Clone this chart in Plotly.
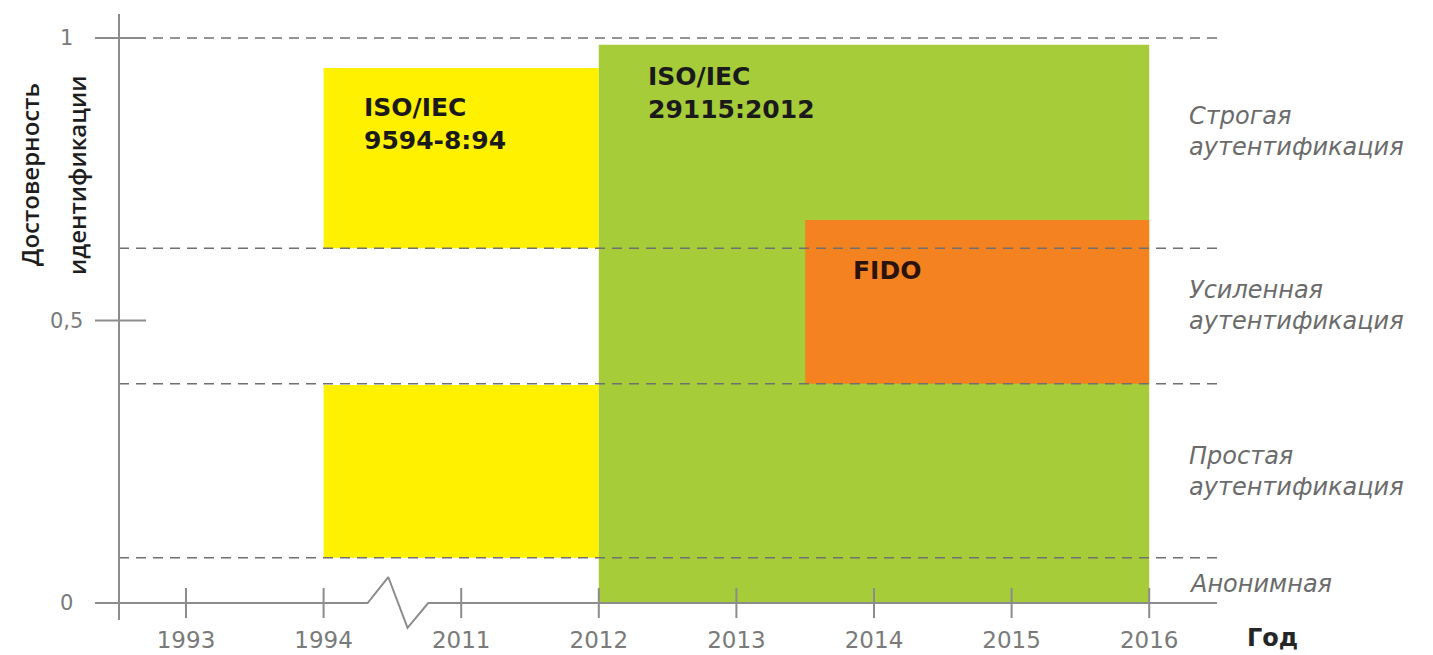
import plotly.graph_objects as go

# ---- data ----
years = ["1993", "1994", "2011", "2012", "2013", "2014", "2015", "2016"]
y_tick_vals = [0, 0.5, 1]
y_tick_text = ["0", "0,5", "1"]

level_bounds = [1.0, 0.628, 0.388, 0.080]
level_names = ["Строгая<br>аутентификация", "Усиленная<br>аутентификация",
               "Простая<br>аутентификация", "Анонимная"]
level_label_y = [0.835, 0.527, 0.232, 0.034]

block_x0 = [1, 1, 3, 4.5]
block_x1 = [3, 3, 7, 7]
block_y0 = [0.628, 0.080, 0.0, 0.388]
block_y1 = [0.947, 0.386, 0.988, 0.678]
block_colors = ["#fff100", "#fff100", "#a6cc3a", "#f58220"]

standard_labels = ["ISO/IEC<br>9594-8:94", "ISO/IEC<br>29115:2012", "FIDO"]
standard_label_x = [1.28, 3.34, 4.83]
standard_label_y = [0.848, 0.903, 0.589]
standard_label_colors = ["#1a1a1a", "#1a1a1a", "#2a140a"]

y_title_lines = ["Достоверность", "идентификации"]
x_title = "Год"

# ---- geometry of the canvas (page body has an 8px margin) ----
OFF = 8
W, H = 1433 - OFF, 655 - OFF
X0PX, DX = 186.0 - OFF, 137.6
Y0PX, DY = 603.0 - OFF, 565.0
def xi(px):
    return (px - OFF - X0PX) / DX
def yv(py):
    return (Y0PX - (py - OFF)) / DY

AX = "#8c8c8c"
fig = go.Figure()

shapes = []
# coloured blocks
for x0, x1, y0, y1, c in zip(block_x0, block_x1, block_y0, block_y1, block_colors):
    shapes.append(dict(type="rect", xref="x", yref="y", x0=x0, x1=x1, y0=y0, y1=y1,
                       fillcolor=c, line=dict(width=0), layer="below"))
# dashed level lines
x_left, x_right = xi(119), xi(1217)
for b in level_bounds:
    shapes.append(dict(type="line", xref="x", yref="y", x0=x_left, x1=x_right, y0=b, y1=b,
                       line=dict(color="#707070", width=1.6, dash="10px,7px"), layer="above"))
# y axis line
shapes.append(dict(type="line", xref="x", yref="y", x0=x_left, x1=x_left, y0=yv(620), y1=yv(14),
                   line=dict(color=AX, width=2)))
# y ticks
for v in y_tick_vals[1:]:
    shapes.append(dict(type="line", xref="x", yref="y", x0=xi(95), x1=xi(146), y0=v, y1=v,
                       line=dict(color=AX, width=2)))
# x ticks
for i in range(len(years)):
    shapes.append(dict(type="line", xref="x", yref="y", x0=i, x1=i, y0=yv(588), y1=yv(618),
                       line=dict(color=AX, width=2)))

# x axis line with break
brk_x = [xi(95), 1.32, 1.47, 1.61, 1.76, x_right]
brk_y = [0, 0, 0.046, -0.044, 0, 0]
fig.add_trace(go.Scatter(x=brk_x, y=brk_y, mode="lines", line=dict(color=AX, width=2),
                         hoverinfo="skip", showlegend=False))

ann = []
for t, x, y, c in zip(standard_labels, standard_label_x, standard_label_y, standard_label_colors):
    ann.append(dict(x=x, y=y, xref="x", yref="y", text=t, showarrow=False, xanchor="left",
                    yanchor="middle", align="left",
                    font=dict(family="DejaVu Sans", size=25, color=c, weight="bold")))
for t, y in zip(level_names, level_label_y):
    ann.append(dict(x=xi(1187), y=y, xref="x", yref="y", text=t, showarrow=False,
                    xanchor="left", yanchor="middle", align="left",
                    font=dict(family="DejaVu Sans", size=24, color="#6b6b6b", style="italic")))
for v, t in zip(y_tick_vals, y_tick_text):
    ann.append(dict(x=xi(66), y=v, xref="x", yref="y", text=t, showarrow=False,
                    xanchor="center", yanchor="middle",
                    font=dict(family="DejaVu Sans", size=21, color="#7a7a7a")))
for t, px in zip(y_title_lines, [29, 76]):
    ann.append(dict(x=xi(px), y=yv(175), xref="x", yref="y", text=t, showarrow=False,
                    textangle=-90, xanchor="center", yanchor="middle",
                    font=dict(family="Open Sans", size=24, color="#1e1e1e", weight=600)))
ann.append(dict(x=xi(1245), y=yv(638), xref="x", yref="y", text=x_title, showarrow=False,
                xanchor="left", yanchor="middle",
                font=dict(family="DejaVu Sans", size=24, color="#262626", weight="bold")))

fig.update_layout(
    width=W, height=H, margin=dict(l=0, r=0, t=0, b=0),
    paper_bgcolor="white", plot_bgcolor="white",
    shapes=shapes, annotations=ann, showlegend=False,
    xaxis=dict(range=[xi(OFF), xi(OFF + W)], showgrid=False, zeroline=False, showline=False,
               tickvals=list(range(len(years))), ticktext=years, ticks="",
               anchor="free", position=(655 - 624) / H,
               tickfont=dict(family="DejaVu Sans", size=23, color="#7a7a7a"), fixedrange=True),
    yaxis=dict(range=[yv(OFF + H), yv(OFF)], showgrid=False, zeroline=False, showline=False,
               showticklabels=False, ticks="", fixedrange=True),
)

fig.write_html("out.html")
